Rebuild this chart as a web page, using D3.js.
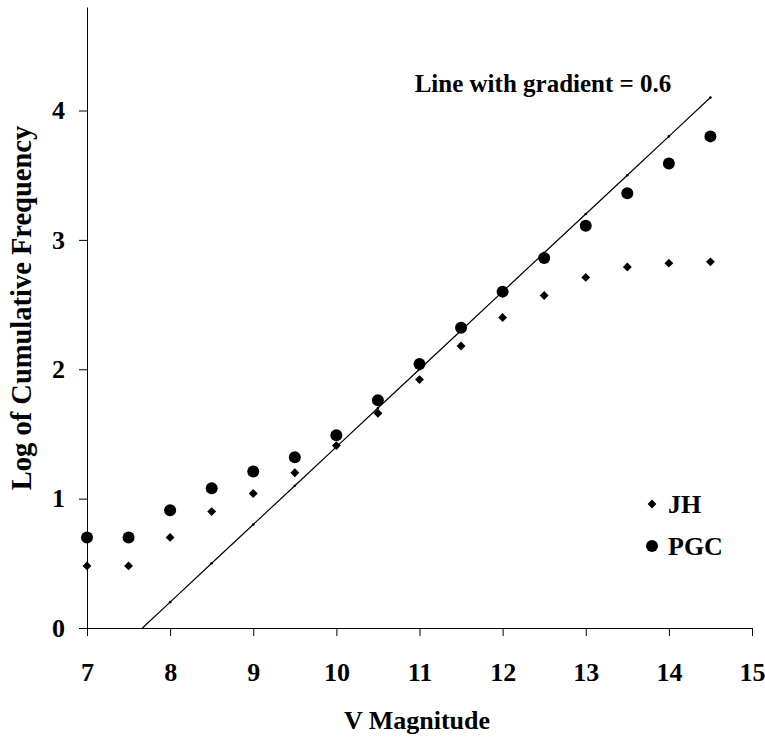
<!DOCTYPE html>
<html>
<head>
<meta charset="utf-8">
<script src="https://cdn.jsdelivr.net/npm/d3@7"></script>
<style>
  html, body { margin: 0; padding: 0; background: #fff; }
  svg { display: block; }
  text { font-family: "Liberation Serif", "Times New Roman", serif; font-weight: bold; fill: #000; }
</style>
</head>
<body>
<svg id="chart" width="765" height="740"></svg>
<script>
// V magnitude bins
const magnitudes = [7, 7.5, 8, 8.5, 9, 9.5, 10, 10.5, 11, 11.5, 12, 12.5, 13, 13.5, 14, 14.5];
// log of cumulative counts per catalogue
const jhValues  = [0.48, 0.48, 0.70, 0.90, 1.04, 1.20, 1.41, 1.66, 1.92, 2.18, 2.40, 2.57, 2.71, 2.79, 2.82, 2.83];
const pgcValues = [0.70, 0.70, 0.91, 1.08, 1.21, 1.32, 1.49, 1.76, 2.04, 2.32, 2.60, 2.86, 3.11, 3.36, 3.59, 3.80];
// reference line of slope 0.6
const gradient = 0.6;
const intercept = -4.6;
const lineMags = [8, 8.5, 9, 9.5, 10, 10.5, 11, 11.5, 12, 12.5, 13, 13.5, 14, 14.5];
const xTicks = [7, 8, 9, 10, 11, 12, 13, 14, 15];
const yTicks = [0, 1, 2, 3, 4];
const seriesNames = ["JH", "PGC"];

const svg = d3.select("#chart");
const x = d3.scaleLinear().domain([7, 15]).range([87, 752]);
const y = d3.scaleLinear().domain([0, 4.8]).range([628, 7]);

// axes
const xAxis = svg.append("g").attr("transform", `translate(0,${y(0)})`)
  .call(d3.axisBottom(x).tickValues(xTicks).tickFormat(d3.format("d"))
    .tickSize(8).tickSizeOuter(0).tickPadding(36));
const yAxis = svg.append("g").attr("transform", `translate(${x(7)},0)`)
  .call(d3.axisLeft(y).tickValues(yTicks).tickFormat(d3.format("d"))
    .tickSize(8).tickSizeOuter(0).tickPadding(14));
[xAxis, yAxis].forEach(g => {
  g.attr("font-size", null).attr("font-family", null);
  g.select(".domain").attr("stroke", "#000").attr("stroke-width", 1);
  g.selectAll(".tick line").attr("stroke", "#000").attr("stroke-width", 1);
  g.selectAll(".tick text")
    .style("font-size", "26px")
    .style("font-family", "'Liberation Serif', serif")
    .style("font-weight", "bold")
    .attr("fill", "#000");
});
xAxis.selectAll(".tick text").attr("dy", "0.35em");

// gradient line, starting where it crosses zero
const x0 = -intercept / gradient;
const linePts = [[x0, 0]].concat(lineMags.map(m => [m, gradient * m + intercept]));
svg.append("path")
  .datum(linePts)
  .attr("fill", "none")
  .attr("stroke", "#000")
  .attr("stroke-width", 1.2)
  .attr("d", d3.line().x(d => x(d[0])).y(d => y(d[1])));
svg.append("g").selectAll("circle")
  .data(lineMags)
  .join("circle")
  .attr("cx", d => x(d))
  .attr("cy", d => y(gradient * d + intercept))
  .attr("r", 1.3)
  .attr("fill", "#000");

const diamond = d3.symbol().type(d3.symbolDiamond2).size(50);

// JH points
svg.append("g").selectAll("path")
  .data(magnitudes.map((m, i) => [m, jhValues[i]]))
  .join("path")
  .attr("transform", d => `translate(${x(d[0])},${y(d[1])})`)
  .attr("d", diamond)
  .attr("fill", "#000");

// PGC points
svg.append("g").selectAll("circle")
  .data(magnitudes.map((m, i) => [m, pgcValues[i]]))
  .join("circle")
  .attr("cx", d => x(d[0]))
  .attr("cy", d => y(d[1]))
  .attr("r", 6)
  .attr("fill", "#000");

// legend
const legend = svg.append("g").attr("transform", "translate(652,504)");
legend.append("path").attr("d", diamond).attr("fill", "#000");
legend.append("circle").attr("cx", 0).attr("cy", 42).attr("r", 6).attr("fill", "#000");
legend.selectAll("text")
  .data(seriesNames)
  .join("text")
  .attr("x", 16)
  .attr("y", (d, i) => i * 42)
  .attr("dy", "0.35em")
  .style("font-size", "26px")
  .text(d => d);

// annotation
svg.append("text")
  .attr("x", 543).attr("y", 92)
  .attr("text-anchor", "middle")
  .style("font-size", "25px")
  .text("Line with gradient = 0.6");

// axis titles
svg.append("text")
  .attr("x", 417).attr("y", 729)
  .attr("text-anchor", "middle")
  .style("font-size", "26px")
  .text("V Magnitude");
svg.append("text")
  .attr("transform", "translate(31,308) rotate(-90)")
  .attr("text-anchor", "middle")
  .style("font-size", "28.5px")
  .text("Log of Cumulative Frequency");
</script>
</body>
</html>
